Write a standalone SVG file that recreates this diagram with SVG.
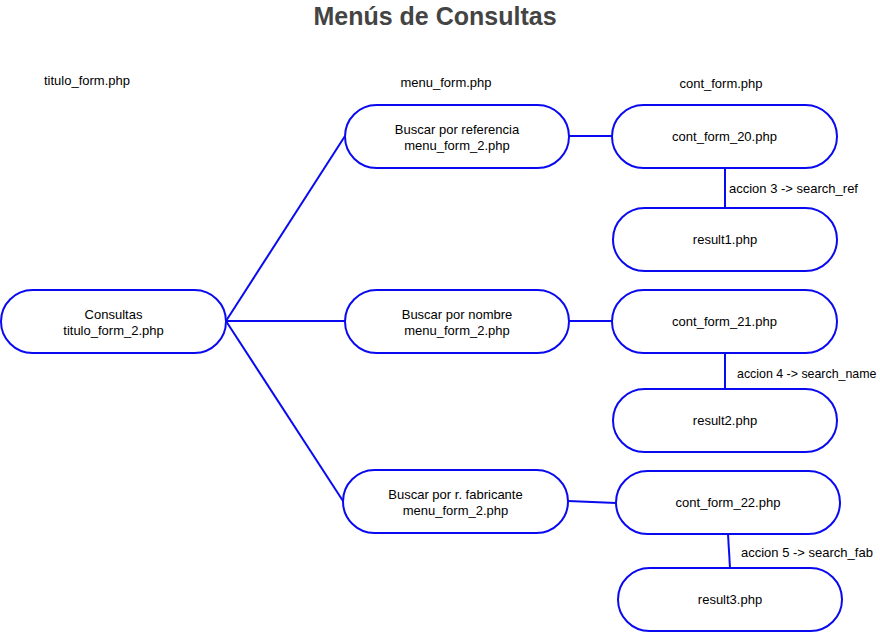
<svg xmlns="http://www.w3.org/2000/svg" width="880" height="633" viewBox="0 0 880 633">
<style>
.n{fill:#fff;stroke:#0a0af0;stroke-width:2}
.c{stroke:#0a0af0;stroke-width:2;fill:none}
text{font-family:"Liberation Sans",Arial,sans-serif;font-size:13px;fill:#000}
.m{text-anchor:middle}
.t{font-size:25px;font-weight:bold;fill:#444}
</style>
<rect width="880" height="633" fill="#fff"/>
<text class="t m" x="435" y="25">Menús de Consultas</text>
<text x="44" y="85">titulo_form.php</text>
<text class="m" x="446" y="87">menu_form.php</text>
<text class="m" x="721" y="88">cont_form.php</text>
<g id="connectors">
<line class="c" x1="226" y1="321" x2="345" y2="136"/>
<line class="c" x1="226" y1="321" x2="345" y2="321"/>
<line class="c" x1="226" y1="321" x2="343" y2="501"/>
<line class="c" x1="569" y1="136" x2="612" y2="136"/>
<line class="c" x1="569" y1="321" x2="612" y2="321"/>
<line class="c" x1="568" y1="501" x2="616" y2="503"/>
<line class="c" x1="725" y1="168" x2="725" y2="208"/>
<line class="c" x1="725" y1="353" x2="725" y2="389"/>
<line class="c" x1="728" y1="534" x2="730" y2="568"/>
<text x="729" y="193">accion 3 -&gt; search_ref</text>
<text x="737" y="378" style="font-size:12.4px">accion 4 -&gt; search_name</text>
<text x="741" y="557">accion 5 -&gt; search_fab</text>
</g>
<g id="consultas"><rect class="n" x="1" y="290" width="225" height="63" rx="31.5"/><text class="m" x="113.5" y="319">Consultas</text><text class="m" x="113.5" y="335">titulo_form_2.php</text></g>
<g id="buscar_ref"><rect class="n" x="345" y="105" width="224" height="63" rx="31.5"/><text class="m" x="457" y="134">Buscar por referencia</text><text class="m" x="457" y="150">menu_form_2.php</text></g>
<g id="buscar_nombre"><rect class="n" x="345" y="290" width="224" height="63" rx="31.5"/><text class="m" x="457" y="319">Buscar por nombre</text><text class="m" x="457" y="335">menu_form_2.php</text></g>
<g id="buscar_fab"><rect class="n" x="343" y="470" width="225" height="63" rx="31.5"/><text class="m" x="455.5" y="499">Buscar por r. fabricante</text><text class="m" x="455.5" y="515">menu_form_2.php</text></g>
<g id="cont_form_20"><rect class="n" x="612" y="105" width="225" height="63" rx="31.5"/><text class="m" x="724.5" y="141">cont_form_20.php</text></g>
<g id="result1"><rect class="n" x="613" y="208" width="224" height="63" rx="31.5"/><text class="m" x="725" y="244">result1.php</text></g>
<g id="cont_form_21"><rect class="n" x="612" y="290" width="225" height="63" rx="31.5"/><text class="m" x="724.5" y="326">cont_form_21.php</text></g>
<g id="result2"><rect class="n" x="613" y="389" width="224" height="63" rx="31.5"/><text class="m" x="725" y="425">result2.php</text></g>
<g id="cont_form_22"><rect class="n" x="616" y="471" width="224" height="63" rx="31.5"/><text class="m" x="728" y="507">cont_form_22.php</text></g>
<g id="result3"><rect class="n" x="618" y="568" width="224" height="63" rx="31.5"/><text class="m" x="730" y="604">result3.php</text></g>
</svg>
